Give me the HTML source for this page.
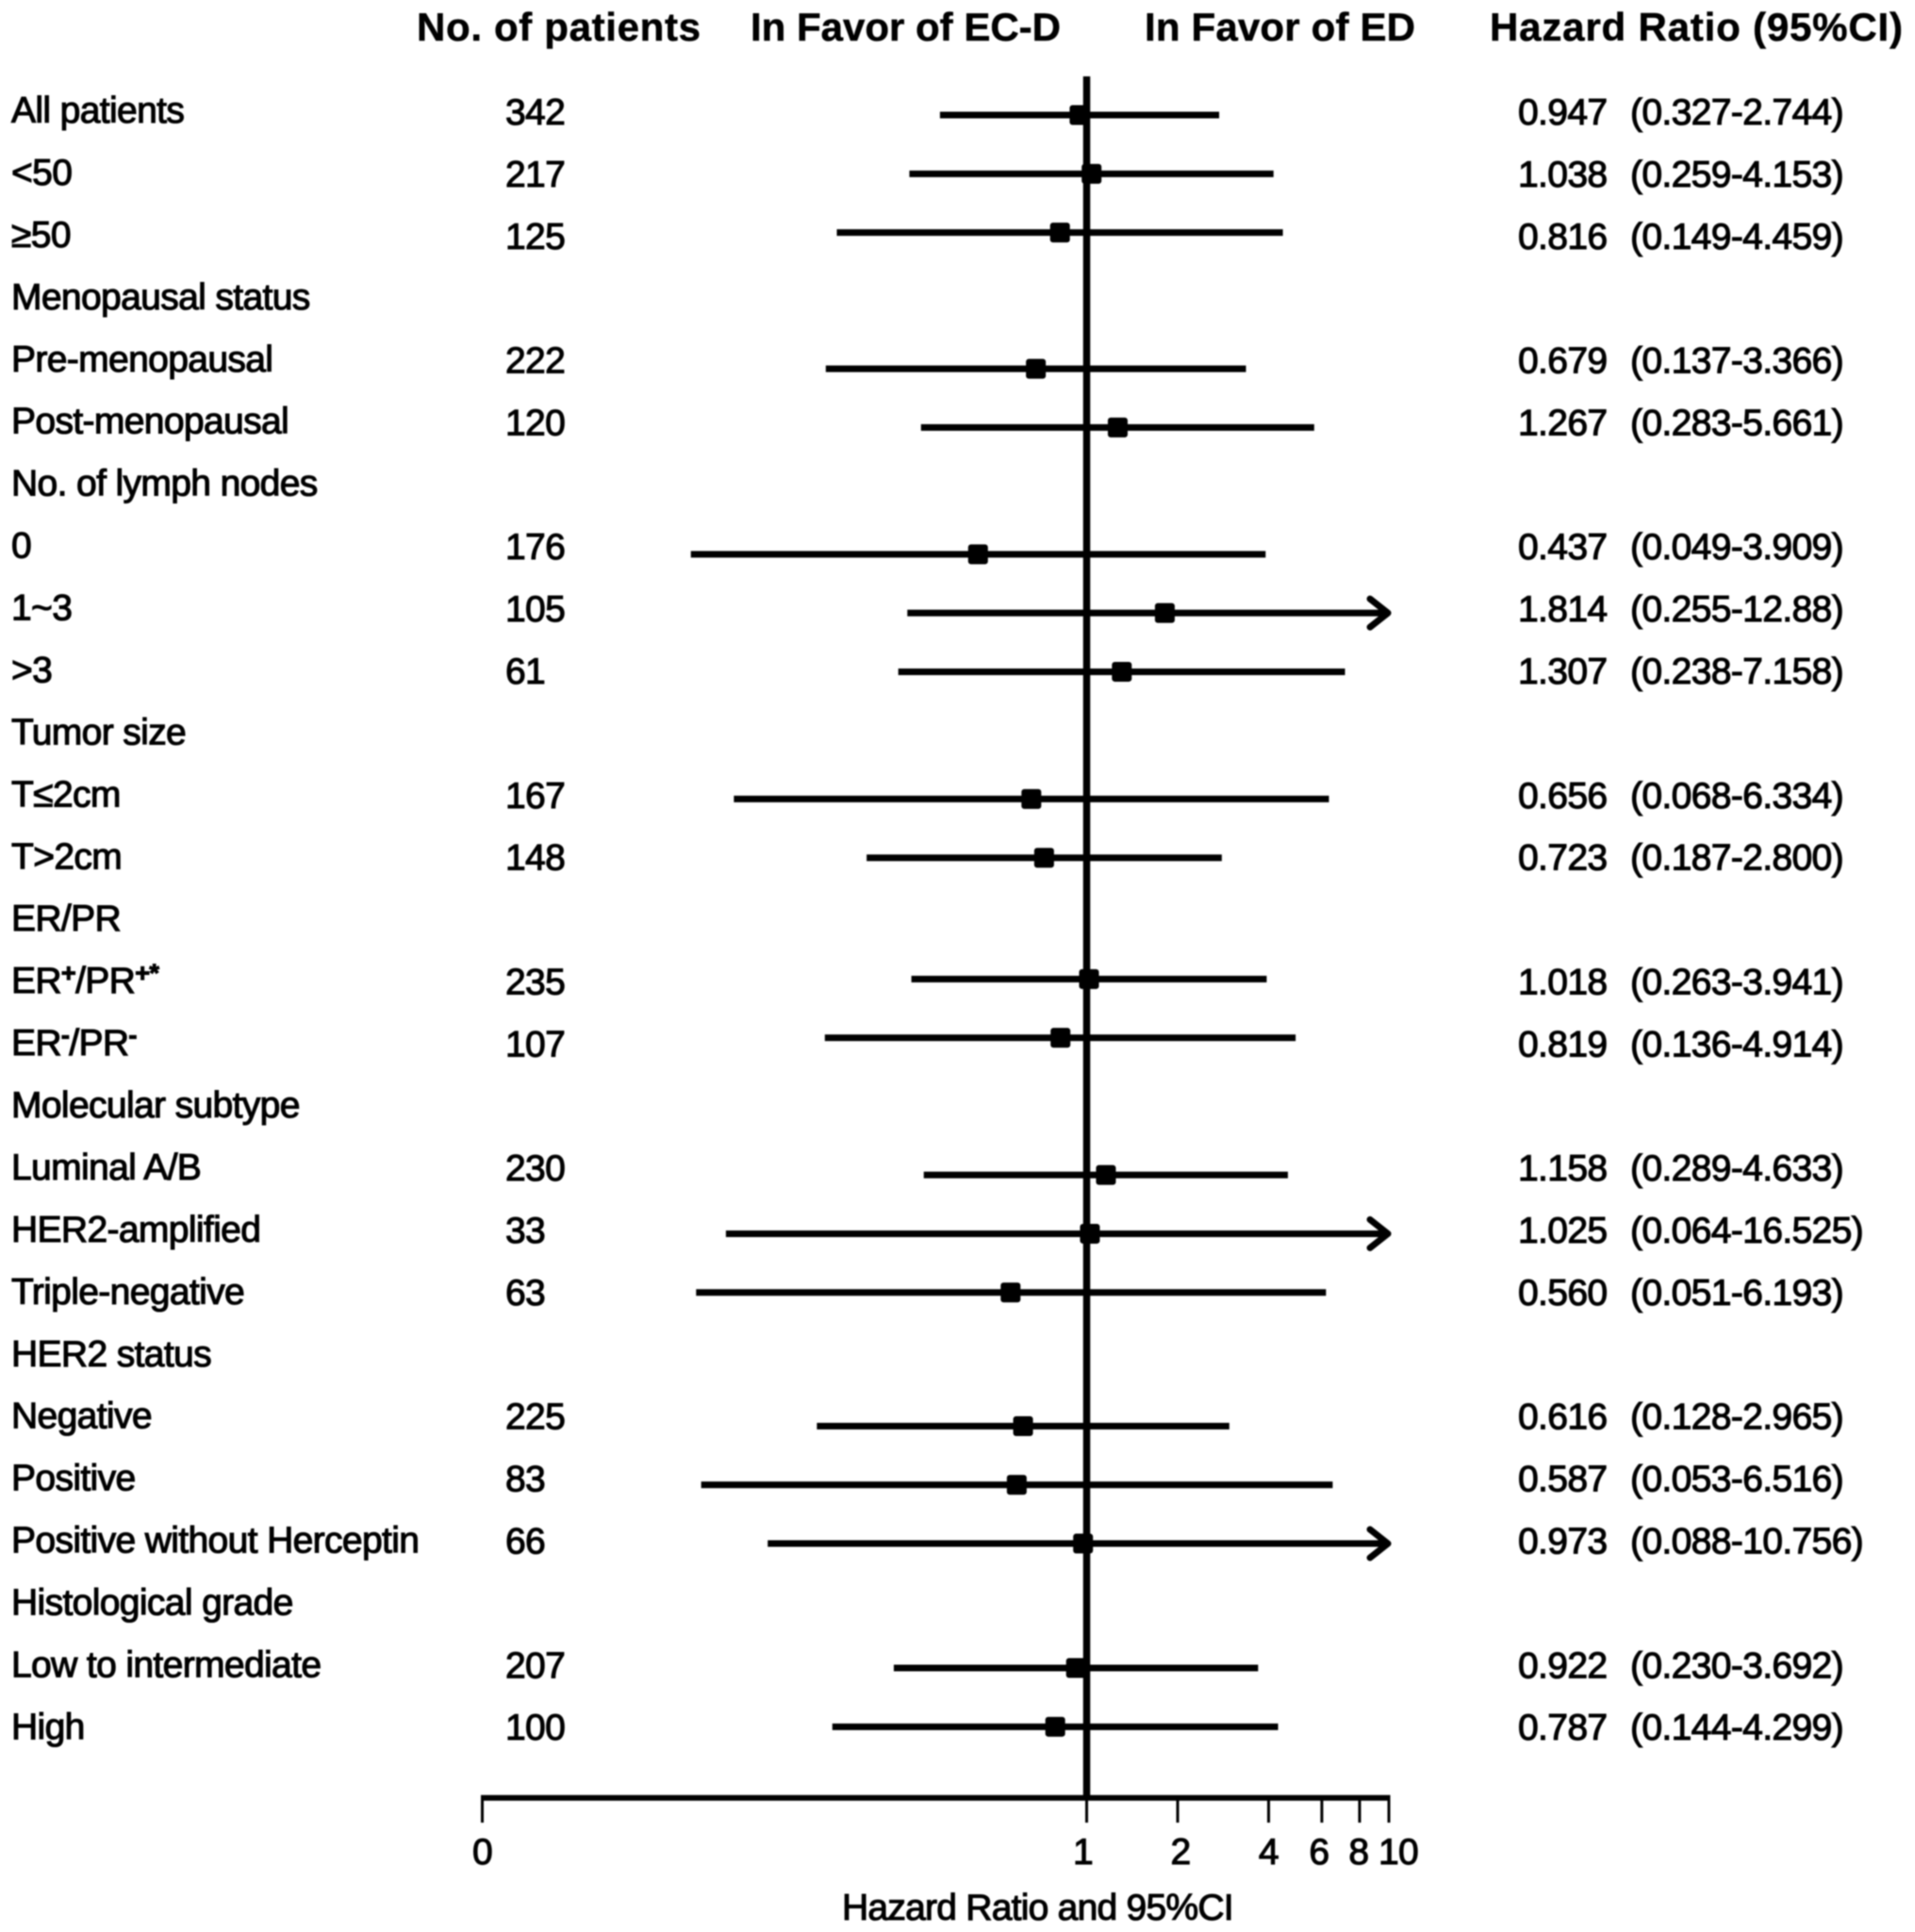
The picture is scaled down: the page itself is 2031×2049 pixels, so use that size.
<!DOCTYPE html>
<html lang="en">
<head>
<meta charset="utf-8">
<title>Forest plot: Hazard Ratio and 95%CI</title>
<style>
  html, body { margin: 0; padding: 0; background: #fff; }
  #chart { display: block; width: 2031px; height: 2049px; filter: blur(0.7px); }
  text { font-family: "Liberation Sans", Arial, sans-serif; fill: #000; stroke: #000; stroke-width: 1.1px; }
  .body-text { font-size: 39px; letter-spacing: -0.63px; }
  .head-text { font-size: 42px; font-weight: bold; stroke-width: 0.5px; }
</style>
</head>
<body>
<svg id="chart" xmlns="http://www.w3.org/2000/svg" width="2031" height="2049" viewBox="0 0 2031 2049">
  <rect x="0" y="0" width="2031" height="2049" fill="#fff"></rect>
  <text class="head-text" x="442" y="43" textLength="301">No. of patients</text>
  <text class="head-text" x="796" y="43" textLength="329">In Favor of EC-D</text>
  <text class="head-text" x="1214" y="43" textLength="287">In Favor of ED</text>
  <text class="head-text" x="1580" y="43" textLength="438">Hazard Ratio (95%CI)</text>
  <text class="body-text" x="893" y="2036" textLength="415">Hazard Ratio and 95%CI</text>
  <g id="rows"></g>
  <g id="marks"></g>
  <g id="axis"></g>
</svg>
<script>
// ---- chart data (a null value marks a section heading row) ----
const categories = ["All patients", "<50", "\u226550", "Menopausal status", "Pre-menopausal", "Post-menopausal", "No. of lymph nodes", "0", "1~3", ">3", "Tumor size", "T\u22642cm", "T>2cm", "ER/PR", "ER^+^/PR^+*^", "ER^-^/PR^-^", "Molecular subtype", "Luminal A/B", "HER2-amplified", "Triple-negative", "HER2 status", "Negative", "Positive", "Positive without Herceptin", "Histological grade", "Low to intermediate", "High"];
const patients = [342, 217, 125, null, 222, 120, null, 176, 105, 61, null, 167, 148, null, 235, 107, null, 230, 33, 63, null, 225, 83, 66, null, 207, 100];
const hazardRatio = [0.947, 1.038, 0.816, null, 0.679, 1.267, null, 0.437, 1.814, 1.307, null, 0.656, 0.723, null, 1.018, 0.819, null, 1.158, 1.025, 0.560, null, 0.616, 0.587, 0.973, null, 0.922, 0.787];
const ciLow = [0.327, 0.259, 0.149, null, 0.137, 0.283, null, 0.049, 0.255, 0.238, null, 0.068, 0.187, null, 0.263, 0.136, null, 0.289, 0.064, 0.051, null, 0.128, 0.053, 0.088, null, 0.230, 0.144];
const ciHigh = [2.744, 4.153, 4.459, null, 3.366, 5.661, null, 3.909, 12.88, 7.158, null, 6.334, 2.800, null, 3.941, 4.914, null, 4.633, 16.525, 6.193, null, 2.965, 6.516, 10.756, null, 3.692, 4.299];
const ciLabels = ["(0.327-2.744)", "(0.259-4.153)", "(0.149-4.459)", null, "(0.137-3.366)", "(0.283-5.661)", null, "(0.049-3.909)", "(0.255-12.88)", "(0.238-7.158)", null, "(0.068-6.334)", "(0.187-2.800)", null, "(0.263-3.941)", "(0.136-4.914)", null, "(0.289-4.633)", "(0.064-16.525)", "(0.051-6.193)", null, "(0.128-2.965)", "(0.053-6.516)", "(0.088-10.756)", null, "(0.230-3.692)", "(0.144-4.299)"];
const tickValues = [0.01, 1, 2, 4, 6, 8, 10];
const tickLabels = ["0", "1", "2", "4", "6", "8", "10"];

// ---- axis functions ----
const AXIS_MIN = 0.01;
const AXIS_MAX = 10;
const X_LEFT = 511.5;
const X_RIGHT = 1473;
function xScale(v) {
  const t = (Math.log10(v) - Math.log10(AXIS_MIN)) / (Math.log10(AXIS_MAX) - Math.log10(AXIS_MIN));
  return X_LEFT + t * (X_RIGHT - X_LEFT);
}

// Vertical layout: rows within one section sit closer together than the text rows.
const SLOT = 65.83;
const INNER = 62.3;
const sectionShift = [-3, 4.5, 2, 0, -6.5, 2, 5, 0];
function buildRowY() {
  const ys = [];
  let section = -1;
  let i = 0;
  while (i < hazardRatio.length) {
    if (hazardRatio[i] === null) { i++; continue; }
    let end = i;
    while (end + 1 < hazardRatio.length && hazardRatio[end + 1] !== null) end++;
    section++;
    const c = (i + end) / 2;
    for (let r = i; r <= end; r++) {
      ys[r] = 121.5 + SLOT * c + INNER * (r - c) + (sectionShift[section] || 0);
    }
    i = end + 1;
  }
  return ys;
}
const rowY = buildRowY();
function labelBaseline(i) { return 130 + 65.94 * i; }
function valueBaseline(i) { return 132 + 65.89 * i; }
// Horizontal placement tweak of each tick label relative to its tick.
const tickLabelShift = [0, -4, 3, 0, -3, -1, -5];

// ---- drawing ----
const NS = "http://www.w3.org/2000/svg";
const rowsG = document.getElementById("rows");
const marksG = document.getElementById("marks");
const axisG = document.getElementById("axis");
function make(tag, attrs, parent) {
  const el = document.createElementNS(NS, tag);
  for (const k in attrs) el.setAttribute(k, attrs[k]);
  parent.appendChild(el);
  return el;
}

categories.forEach(function (name, i) {
  const label = make("text", { x: 12, y: labelBaseline(i), "class": "body-text" }, rowsG);
  
  
  const parts = name.split("^");
  let raised = false;
  parts.forEach(function (part, p) {
    if (part === "") return;
    const isSup = p % 2 === 1;
    const span = make("tspan", {}, label);
    if (isSup) {
      span.setAttribute("font-size", "27");
      span.setAttribute("font-weight", "bold");
      span.setAttribute("dy", "-12");
      raised = true;
    } else if (raised) {
      span.setAttribute("dy", "12");
      raised = false;
    }
    span.textContent = part;
  });

  if (patients[i] !== null) {
    const count = make("text", { x: 536, y: valueBaseline(i), "class": "body-text" }, rowsG);
    
    
    count.textContent = String(patients[i]);
  }

  if (hazardRatio[i] === null) return;

  const hrText = make("text", { x: 1610, y: valueBaseline(i), "class": "body-text" }, rowsG);
  
  
  hrText.textContent = hazardRatio[i].toFixed(3);

  const ciText = make("text", { x: 1729, y: valueBaseline(i), "class": "body-text" }, rowsG);
  
  
  ciText.textContent = ciLabels[i];

  const y = rowY[i];
  const clipped = ciHigh[i] > AXIS_MAX;
  const x1 = xScale(ciLow[i]);
  const x2 = xScale(Math.min(ciHigh[i], AXIS_MAX));
  const line = make("line", { x1: x1, y1: y, x2: x2, y2: y, stroke: "#000", "stroke-width": 7 }, marksG);
  
  

  if (clipped) {
    const arrow = make("polyline", {
      points: (x2 - 20) + "," + (y - 15) + " " + (x2 - 1) + "," + y + " " + (x2 - 20) + "," + (y + 15),
      fill: "none", stroke: "#000", "stroke-width": 7, "stroke-linecap": "round", "stroke-linejoin": "round"
    }, marksG);
    
    
  }

  const cx = xScale(hazardRatio[i]);
  const marker = make("rect", { x: cx - 10.5, y: y - 10.5, width: 21, height: 21, rx: 3, ry: 3, fill: "#000" }, marksG);
  
  
});

const refLine = make("line", { x1: xScale(1), y1: 81, x2: xScale(1), y2: 1907, stroke: "#000", "stroke-width": 7.5 }, marksG);



const axisLine = make("line", { x1: xScale(AXIS_MIN) - 1.5, y1: 1906.7, x2: xScale(AXIS_MAX) + 1.5, y2: 1906.7, stroke: "#000", "stroke-width": 6 }, axisG);



tickValues.forEach(function (v, i) {
  const x = xScale(v);
  const tick = make("line", { x1: x, y1: 1906, x2: x, y2: 1933, stroke: "#000", "stroke-width": 3 }, axisG);
  
  
  const isLast = i === tickValues.length - 1;
  const tl = make("text", {
    x: (isLast ? x - 6 : x) + tickLabelShift[i],
    y: 1977,
    "text-anchor": isLast ? "start" : "middle",
    "class": "body-text"
  }, axisG);
  
  
  tl.textContent = tickLabels[i];
});
</script>
</body>
</html>
